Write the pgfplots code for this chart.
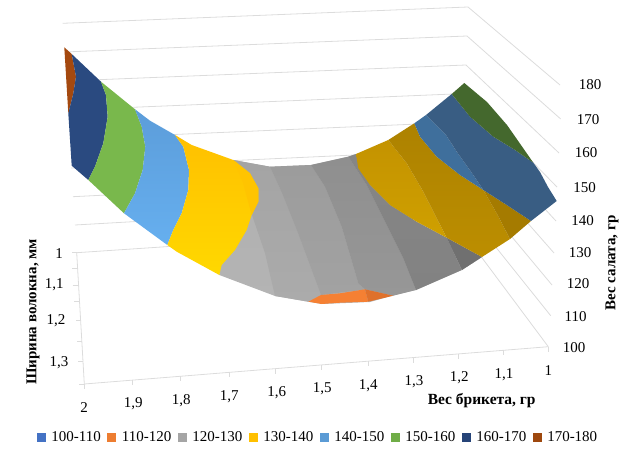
\documentclass[border=0pt]{standalone}
\usepackage{pgfplots}
\pgfplotsset{compat=1.18}
\usepackage{fontspec}
\setmainfont{Liberation Serif}
\definecolor{L1}{HTML}{4472C4}\definecolor{L2}{HTML}{ED7D31}\definecolor{L3}{HTML}{A5A5A5}\definecolor{L4}{HTML}{FFC000}
\definecolor{L5}{HTML}{5B9BD5}\definecolor{L6}{HTML}{70AD47}\definecolor{L7}{HTML}{264478}\definecolor{L8}{HTML}{9E480E}
\definecolor{gridc}{HTML}{DCDCDC}
\newcommand{\dc}[1]{\definecolor{c#1}{HTML}{#1}}
\dc{B0B0B0}\dc{B4B4B4}\dc{A4A4A4}\dc{ABABAB}\dc{9C9C9C}\dc{A2A2A2}\dc{8F8F8F}\dc{979797}\dc{868686}\dc{828282}\dc{707070}
\dc{F58033}\dc{DF712C}\dc{A5490F}\dc{2A4A80}\dc{79B84C}\dc{5C9DDA}\dc{66AFEF}\dc{FFC000}\dc{FFD800}\dc{FFC400}\dc{C49300}\dc{CFA000}
\dc{AD8200}\dc{BC8E00}\dc{A57B00}\dc{3F6F9C}\dc{395D83}\dc{44682D}
\newcommand{\gl}[1]{\addplot[gridc,line width=0.8pt,forget plot] coordinates {#1};}
\newcommand{\pf}[2]{\addplot[fill=c#1,draw=none,forget plot] coordinates {#2} --cycle;}
\newcommand{\ps}[3]{\addplot[top color=c#1,bottom color=c#2,draw=none,forget plot] coordinates {#3} --cycle;}
\begin{document}
\begin{tikzpicture}
\useasboundingbox (0,0) rectangle (640pt,457pt);
\begin{axis}[at={(0,0)},anchor=south west,scale only axis,width=640pt,height=457pt,
  xmin=0,xmax=640,ymin=0,ymax=457,y dir=reverse,hide axis,clip=false,
  legend columns=8,
  legend style={at={(axis cs:37,437)},anchor=west,draw=none,fill=none,inner sep=0pt,outer sep=0pt,
    font=\fontsize{15}{15}\selectfont,
    /tikz/every even column/.append style={column sep=6.6pt},
    nodes={inner sep=0pt,outer sep=0pt}},
  legend image code/.code={\fill[#1] (0pt,-4pt) rectangle (8pt,4pt);},
  legend cell align=left]
\addlegendimage{L1}\addlegendentry{\hspace{6pt}100-110}
\addlegendimage{L2}\addlegendentry{\hspace{6pt}110-120}
\addlegendimage{L3}\addlegendentry{\hspace{6pt}120-130}
\addlegendimage{L4}\addlegendentry{\hspace{6pt}130-140}
\addlegendimage{L5}\addlegendentry{\hspace{6pt}140-150}
\addlegendimage{L6}\addlegendentry{\hspace{6pt}150-160}
\addlegendimage{L7}\addlegendentry{\hspace{6pt}160-170}
\addlegendimage{L8}\addlegendentry{\hspace{6pt}170-180}
% back wall gridlines
\gl{(62.7,23.3)(468,7)}
\gl{(64.4,52)(467,36)}
\gl{(66,81)(466,65)}
\gl{(67.8,110)(465.5,93.5)}
\gl{(69.5,139)(464.5,122)}
\gl{(71.2,168)(463.5,150)}
\gl{(73,196.7)(462,177)}
\gl{(75,225)(460.5,203)}
\gl{(76.7,252.7)(459,227)}
% side wall gridlines
\gl{(468,7)(560,85)}
\gl{(467,36)(560.7,119)}
\gl{(466,65)(559,153)}
\gl{(465.5,93.5)(557,187)}
\gl{(464.5,122)(556,221)}
\gl{(463.5,150)(554,253)}
\gl{(462,177)(552,285)}
\gl{(460.5,203)(550.7,315.7)}
\gl{(459,227)(548.3,346.7)}
% floor
\gl{(76.7,252.7)(84.3,384)}
\gl{(84.3,384)(548.3,346.7)}
% ticks bottom
\gl{(84.3,384)(84.3,389)}\gl{(132.3,380.2)(132.3,385.2)}\gl{(180.7,376.3)(180.7,381.3)}
\gl{(229,372.4)(229,377.4)}\gl{(275.3,368.7)(275.3,373.7)}\gl{(321.7,365)(321.7,370)}
\gl{(368.3,361.2)(368.3,366.2)}\gl{(413.3,357.6)(413.3,362.6)}\gl{(458.3,354)(458.3,359)}
\gl{(503.3,350.3)(503.3,355.3)}\gl{(548.3,346.7)(548.3,351.7)}
% ticks left
\gl{(72.3,252.7)(76.7,252.7)}\gl{(72.3,268.3)(77.6,268.3)}\gl{(72.7,285)(78.6,285)}\gl{(74.3,301.7)(79.5,301.7)}
\gl{(76,320.7)(80.6,320.7)}\gl{(77,341.7)(81.8,341.7)}\gl{(78.3,361)(82.9,361)}\gl{(79.3,384)(84.3,384)}
% surface base (grey)
\ps{B0B0B0}{B4B4B4}{(233.3,160)(270,166.7)(311,165)(348,156.7)(356,154)(416,223)(482,257)(462,270)(416,290)(393,295.5)(370,302)(321.7,304)(308.3,301.7)(275,296)(219.3,275)}
\ps{A4A4A4}{ABABAB}{(233,160)(270,166.7)(282,193)(298,233)(321,295)(308.3,301.7)(275,296)(265,253)(252,215)(258,190)}
\ps{9C9C9C}{A2A2A2}{(270,166.7)(311,165)(325,186.7)(341.7,226.7)(358.3,283.3)(365,289.5)(321,295)(298,233)(282,193)}
\ps{8F8F8F}{979797}{(311,165)(348.3,156.7)(366.7,185)(383.3,218.3)(403.3,258.3)(416,290)(393,295.7)(365,289.3)(358.3,283.3)(341.7,226.7)(325,186.7)}
\ps{868686}{828282}{(348.3,156.7)(356,154)(370,185)(390,205)(416.7,221.7)(446.7,237.7)(461.7,270)(416,290)(403.3,258.3)(383.3,218.3)(366.7,185)}
\pf{707070}{(446.7,237.7)(482,257)(462,270)}
% orange
\pf{F58033}{(308.3,301.7)(321,295)(340,293.3)(365,289.3)(368.3,301.7)(340,302.7)(321.7,304)}
\pf{DF712C}{(365,289.3)(393.3,295.7)(368.3,301.7)}
% brown
\pf{A5490F}{(64.3,47.3)(71.7,54)(76,76.7)(73.3,93.3)(68.3,113.3)}
% navy
\pf{2A4A80}{(71.7,54)(101,81.7)(106,95)(107.7,116.7)(103.3,143.3)(95,166.7)(88.3,180)(71.7,165.7)(68.3,113.3)(73.3,93.3)(76,76.7)}
% green
\pf{79B84C}{(101,81.7)(135,109.3)(141.7,126.7)(145.3,146.7)(142.7,170)(135,193.3)(124,213.3)(88.3,180)(95,166.7)(103.3,143.3)(107.7,116.7)(106,95)}
% light blue
\ps{5C9DDA}{66AFEF}{(135,109.3)(150,120.7)(175,135)(183.3,146.7)(189,170)(188.3,190)(181.7,213.3)(173.3,230)(167.3,245)(124,213.3)(135,193.3)(142.7,170)(145.3,146.7)(141.7,126.7)}
% yellow
\ps{FFC000}{FFD800}{(175,135)(191.7,145)(233.3,160)(250,173.3)(258.3,188.3)(258.3,201.7)(251.7,215)(246.7,230)(235,250)(221.7,265)(219.3,275)(176.7,251.7)(167.3,245)(173.3,230)(181.7,213.3)(188.3,190)(189,170)(183.3,146.7)}
\pf{FFC400}{(233.3,160)(250,173.3)(258.3,188.3)(258.3,201.7)(251.7,215)(243,183)}
% gold
\ps{C49300}{CFA000}{(356,154)(388.3,140)(406.7,163.3)(423.3,191.7)(436.7,218.3)(446.7,237.7)(416.7,221.7)(390,205)(370,185)(358.3,168.3)}
\ps{AD8200}{BC8E00}{(388.3,140)(414.3,123.3)(420,136.7)(436.7,156.7)(460,175)(483.3,190)(496.7,213.3)(510,239)(482,257)(446.7,237.7)(436.7,218.3)(423.3,191.7)(406.7,163.3)}
\pf{A57B00}{(483.3,190)(506.7,205)(531,221)(510,239)(496.7,213.3)}
% blue
\pf{3F6F9C}{(414.3,123.3)(426,115)(446,135)(456.7,151.7)(473.3,175)(483.3,190)(460,175)(436.7,156.7)(420,136.7)}
\pf{395D83}{(426,115)(451.7,94)(470,116.7)(493.3,136.7)(515,150)(533.3,162.7)(540,172)(548,187)(556.7,201)(531,221)(506.7,205)(483.3,190)(473.3,175)(456.7,151.7)(446,135)}
% dark green
\pf{44682D}{(451.7,94)(464.3,83)(487,102)(507,125)(533.3,162.7)(515,150)(493.3,136.7)(470,116.7)}
% tick labels
\begin{scope}[every node/.style={font=\fontsize{15}{15}\selectfont,inner sep=0pt}]
\node at (axis cs:590,85) {180};
\node at (axis cs:588,119.5) {170};
\node at (axis cs:586,153) {160};
\node at (axis cs:584.5,187.5) {150};
\node at (axis cs:582.5,220.5) {140};
\node at (axis cs:580,252.5) {130};
\node at (axis cs:578,284) {120};
\node at (axis cs:575.7,316.7) {110};
\node at (axis cs:574,347.7) {100};
\node at (axis cs:59,253.3) {1};
\node at (axis cs:54.3,285) {1,1};
\node at (axis cs:56,320.7) {1,2};
\node at (axis cs:59,362.7) {1,3};
\node at (axis cs:84,407.7) {2};
\node at (axis cs:133.3,403.3) {1,9};
\node at (axis cs:181.3,400.7) {1,8};
\node at (axis cs:229.3,396.7) {1,7};
\node at (axis cs:276.7,392.7) {1,6};
\node at (axis cs:322.3,389) {1,5};
\node at (axis cs:368.3,385.7) {1,4};
\node at (axis cs:414,382) {1,3};
\node at (axis cs:459.3,377.7) {1,2};
\node at (axis cs:504,374.7) {1,1};
\node at (axis cs:548.3,370.7) {1};
\node[font=\fontsize{15.5}{15.5}\selectfont\bfseries] at (axis cs:481.7,401) {Вес брикета, гр};
\node[font=\fontsize{15}{15}\selectfont\bfseries,rotate=90] at (axis cs:33,312) {Ширина волокна, мм};
\node[font=\fontsize{15}{15}\selectfont\bfseries,rotate=90] at (axis cs:612,263) {Вес салата, гр};
\end{scope}
\end{axis}
\end{tikzpicture}
\end{document}
